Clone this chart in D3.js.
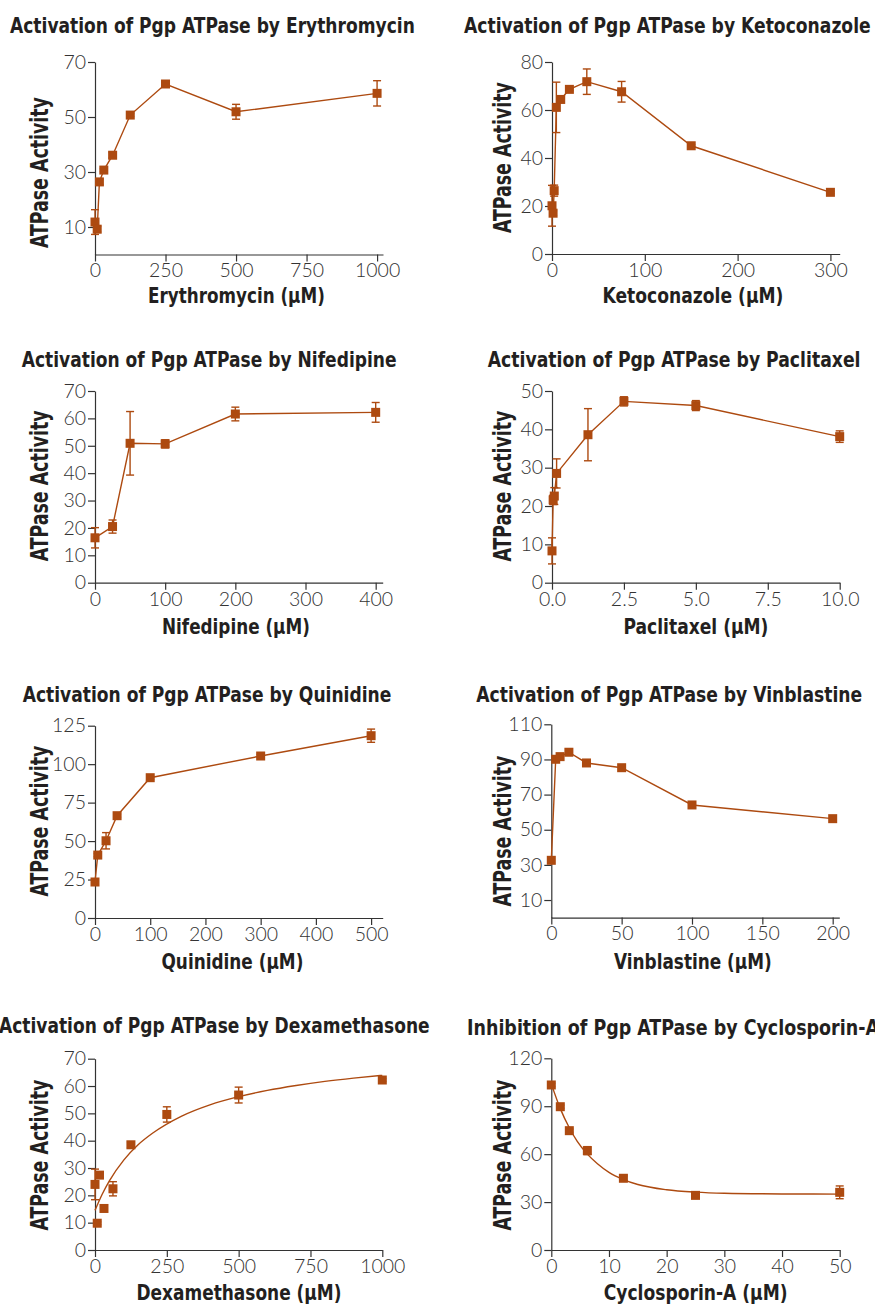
<!DOCTYPE html>
<html>
<head>
<meta charset="utf-8">
<script src="https://cdn.jsdelivr.net/npm/d3@7"></script>
<style>
  html, body { margin: 0; padding: 0; background: #fff; }
  svg { display: block; }
  .tick text { font-family: Lato, Roboto, "Liberation Sans", sans-serif; font-weight: 300; font-size: 19.5px; fill: #333; }
  .axis path, .axis line { stroke: #333; stroke-width: 1.2px; }
  .lbl { font-family: "Liberation Sans Narrow", "DejaVu Sans Condensed", "Liberation Sans", sans-serif; font-weight: bold; fill: #231f20; }
</style>
</head>
<body>
<div id="chart"></div>
<script>
// values (concentration in µM, ATPase activity, error half-width)
const erythroX = [0, 7.8, 15.6, 31.25, 62.5, 125, 250, 500, 1000]
const erythroY = [11.8, 9.2, 26.4, 30.7, 36.1, 50.7, 62.0, 51.9, 58.6]
const erythroErr = [4.5, 1, 1, 0.5, 1, 0.5, 0.5, 2.7, 4.6]

const ketoX = [0, 1.17, 2.34, 4.69, 9.38, 18.75, 37.5, 75, 150, 300]
const ketoY = [20.1, 17.0, 26.4, 61.1, 64.4, 68.6, 71.8, 67.6, 45.1, 25.7]
const ketoErr = [8.5, 1, 2.3, 10.5, 1, 0.5, 5.3, 4.3, 0.5, 0.5]

const nifeX = [0, 25, 50, 100, 200, 400]
const nifeY = [16.4, 20.5, 50.9, 50.7, 61.6, 62.2]
const nifeErr = [3.7, 2.4, 11.6, 1.5, 2.5, 3.6]

const pacliX = [0, 0.04, 0.08, 0.16, 1.25, 2.5, 5, 10]
const pacliY = [8.3, 21.6, 22.6, 28.5, 38.6, 47.3, 46.2, 38.1]
const pacliErr = [3.4, 1.2, 2.2, 3.8, 6.8, 1.2, 1.3, 1.5]

const quiniX = [0, 5, 20, 40, 100, 300, 500]
const quiniY = [23.4, 40.9, 50.2, 66.5, 91.2, 105.3, 118.5]
const quiniErr = [1.5, 1, 5.3, 1, 1, 1, 4.3]

const vinbX = [0, 3.125, 6.25, 12.5, 25, 50, 100, 200]
const vinbY = [32.6, 90.1, 91.6, 94.1, 88.0, 85.3, 64.1, 56.3]
const vinbErr = [0, 0, 0, 0, 0, 0, 0, 0]

const dexaX = [0, 7.8, 15.6, 31.25, 62.5, 125, 250, 500, 1000]
const dexaY = [24.0, 9.8, 27.4, 15.2, 22.4, 38.5, 49.6, 56.7, 62.2]
const dexaErr = [5.6, 0.5, 1, 0.5, 2.6, 1, 2.8, 2.9, 0.5]
// fitted curve
const dexaFitX = [0, 25, 50, 100, 150, 200, 300, 400, 500, 600, 700, 800, 900, 1000]
const dexaFitY = [14.5, 20.4, 25.3, 32.9, 38.5, 42.7, 48.9, 53.1, 56.1, 58.4, 60.2, 61.7, 62.9, 63.9]

const cycloX = [0, 1.5625, 3.125, 6.25, 12.5, 25, 50]
const cycloY = [103.3, 89.7, 74.7, 62.2, 44.9, 34.2, 36.1]
const cycloErr = [1, 1, 1, 2.5, 1.5, 1, 4]
const cycloFitX = [0, 1.56, 3.12, 4.5, 6.25, 8, 10, 12.5, 15, 20, 25, 30, 40, 50]
const cycloFitY = [104, 88.5, 76.5, 68, 60, 54, 48.6, 44.1, 41, 37.7, 36.2, 35.5, 35.1, 35]

// tick labels
const erythroXTicks = [0, 250, 500, 750, 1000]
const erythroYTicks = [10, 30, 50, 70]
const ketoXTicks = [0, 100, 200, 300]
const ketoYTicks = [0, 20, 40, 60, 80]
const nifeXTicks = [0, 100, 200, 300, 400]
const nifeYTicks = [0, 10, 20, 30, 40, 50, 60, 70]
const pacliXTicks = [0, 2.5, 5, 7.5, 10]
const pacliYTicks = [0, 10, 20, 30, 40, 50]
const quiniXTicks = [0, 100, 200, 300, 400, 500]
const quiniYTicks = [0, 25, 50, 75, 100, 125]
const vinbXTicks = [0, 50, 100, 150, 200]
const vinbYTicks = [10, 30, 50, 70, 90, 110]
const dexaXTicks = [0, 250, 500, 750, 1000]
const dexaYTicks = [0, 10, 20, 30, 40, 50, 60, 70]
const cycloXTicks = [0, 10, 20, 30, 40, 50]
const cycloYTicks = [0, 30, 60, 90, 120]

const COLOR = '#ad4a10'
const W = 875, H = 1305

const zip = (xs, ys, es) => xs.map((x, i) => ({ x, y: ys[i], e: es ? es[i] : 0 }))

const panels = [
  { title: 'Activation of Pgp ATPase by Erythromycin', xlabel: 'Erythromycin (\u00b5M)',
    pts: zip(erythroX, erythroY, erythroErr), xTicks: erythroXTicks, yTicks: erythroYTicks,
    xDom: [0, 1021], yDom: [0, 70], left: 95, right: 383, top: 62, bottom: 254.5,
    t: [10, 32.5, 405], xl: [236.5, 303.3, 177], yl: [47.5, 172.5] },
  { title: 'Activation of Pgp ATPase by Ketoconazole', xlabel: 'Ketoconazole (\u00b5M)',
    pts: zip(ketoX, ketoY, ketoErr), xTicks: ketoXTicks, yTicks: ketoYTicks,
    xDom: [0, 310], yDom: [0, 80], left: 552, right: 839.7, top: 62, bottom: 254,
    t: [464, 32.5, 407], xl: [693, 303.3, 181], yl: [511, 157.5] },
  { title: 'Activation of Pgp ATPase by Nifedipine', xlabel: 'Nifedipine (\u00b5M)',
    pts: zip(nifeX, nifeY, nifeErr), xTicks: nifeXTicks, yTicks: nifeYTicks,
    xDom: [0, 410], yDom: [0, 70], left: 95, right: 382.7, top: 391, bottom: 582.7,
    t: [21.7, 366.7, 375], xl: [236, 634, 148], yl: [47.5, 485.8] },
  { title: 'Activation of Pgp ATPase by Paclitaxel', xlabel: 'Paclitaxel (\u00b5M)',
    pts: zip(pacliX, pacliY, pacliErr), xTicks: pacliXTicks, yTicks: pacliYTicks, xFmt: d3.format('.1f'),
    xDom: [0, 10], yDom: [0, 50], left: 552, right: 839.7, top: 391, bottom: 582.7,
    t: [487.7, 366.7, 373], xl: [696, 634, 145], yl: [511, 486] },
  { title: 'Activation of Pgp ATPase by Quinidine', xlabel: 'Quinidine (\u00b5M)',
    pts: zip(quiniX, quiniY, quiniErr), xTicks: quiniXTicks, yTicks: quiniYTicks,
    xDom: [0, 521], yDom: [0, 125], left: 95, right: 382.7, top: 725.7, bottom: 918,
    t: [22.7, 701.7, 369], xl: [232.5, 969, 142], yl: [48, 821] },
  { title: 'Activation of Pgp ATPase by Vinblastine', xlabel: 'Vinblastine (\u00b5M)',
    pts: zip(vinbX, vinbY, vinbErr), xTicks: vinbXTicks, yTicks: vinbYTicks,
    xDom: [0, 204.7], yDom: [0, 110], left: 551.3, right: 839.3, top: 724.3, bottom: 917.6,
    t: [476.3, 701.7, 386], xl: [693, 969, 158], yl: [511, 831] },
  { title: 'Activation of Pgp ATPase by Dexamethasone', xlabel: 'Dexamethasone (\u00b5M)',
    pts: zip(dexaX, dexaY, dexaErr), fit: zip(dexaFitX, dexaFitY), xTicks: dexaXTicks, yTicks: dexaYTicks,
    xDom: [0, 1000], yDom: [0, 70], left: 95, right: 382.3, top: 1058.7, bottom: 1250,
    t: [-1, 1033.3, 431], xl: [239, 1300, 205], yl: [48, 1155] },
  { title: 'Inhibition of Pgp ATPase by Cyclosporin-A', xlabel: 'Cyclosporin-A (\u00b5M)',
    pts: zip(cycloX, cycloY, cycloErr), fit: zip(cycloFitX, cycloFitY), xTicks: cycloXTicks, yTicks: cycloYTicks,
    xDom: [0, 50], yDom: [0, 120], left: 551.3, right: 839.7, top: 1058.3, bottom: 1250,
    t: [467, 1034.5, 412], xl: [695.7, 1300, 184], yl: [511, 1155] }
]

const svg = d3.select('#chart').append('svg').attr('width', W).attr('height', H)

// condensed bold label: natural text squeezed horizontally to the measured width
function label(g, str, size, width, x, y, rotate, anchor) {
  const t = g.append('text').attr('class', 'lbl').style('font-size', size + 'px').text(str)
  const natural = t.node().getComputedTextLength()
  const sx = width / natural
  const dx = anchor === 'middle' ? -width / 2 : 0
  t.attr('transform', `translate(${x},${y})${rotate ? ' rotate(-90)' : ''} translate(${dx},0) scale(${sx},1)`)
}

panels.forEach(p => {
  const g = svg.append('g')
  const x = d3.scaleLinear().domain(p.xDom).range([p.left, p.right])
  const y = d3.scaleLinear().domain(p.yDom).range([p.bottom, p.top])

  // Axes
  g.append('g').attr('class', 'axis').attr('transform', `translate(0,${p.bottom})`)
    .call(d3.axisBottom(x).tickValues(p.xTicks).tickSize(7).tickPadding(2).tickSizeOuter(0)
      .tickFormat(p.xFmt || d3.format('d')))
  g.append('g').attr('class', 'axis').attr('transform', `translate(${p.left},0)`)
    .call(d3.axisLeft(y).tickValues(p.yTicks).tickSize(7).tickPadding(2).tickSizeOuter(0))

  // Connecting line or fitted curve
  const line = d3.line().x(d => x(d.x)).y(d => y(d.y))
  if (p.fit) line.curve(d3.curveMonotoneX)
  g.append('path').datum(p.fit || p.pts).attr('d', line)
    .attr('fill', 'none').attr('stroke', COLOR).attr('stroke-width', 1.4)

  // Error bars
  p.pts.filter(d => d.e > 0).forEach(d => {
    const cx = x(d.x), y1 = y(d.y + d.e), y2 = y(d.y - d.e)
    const eb = g.append('g').attr('stroke', COLOR).attr('stroke-width', 1.4)
    eb.append('line').attr('x1', cx).attr('x2', cx).attr('y1', y1).attr('y2', y2)
    eb.append('line').attr('x1', cx - 4).attr('x2', cx + 4).attr('y1', y1).attr('y2', y1)
    eb.append('line').attr('x1', cx - 4).attr('x2', cx + 4).attr('y1', y2).attr('y2', y2)
  })

  // Square markers
  const s = 9
  g.selectAll('rect.pt').data(p.pts).join('rect').attr('class', 'pt')
    .attr('x', d => x(d.x) - s / 2).attr('y', d => y(d.y) - s / 2)
    .attr('width', s).attr('height', s).attr('fill', COLOR)

  // Labels
  label(g, p.title, 22, p.t[2], p.t[0], p.t[1], false, 'start')
  label(g, p.xlabel, 22, p.xl[2], p.xl[0], p.xl[1], false, 'middle')
  label(g, 'ATPase Activity', 24, 151, p.yl[0], p.yl[1], true, 'middle')
})
</script>
</body>
</html>
